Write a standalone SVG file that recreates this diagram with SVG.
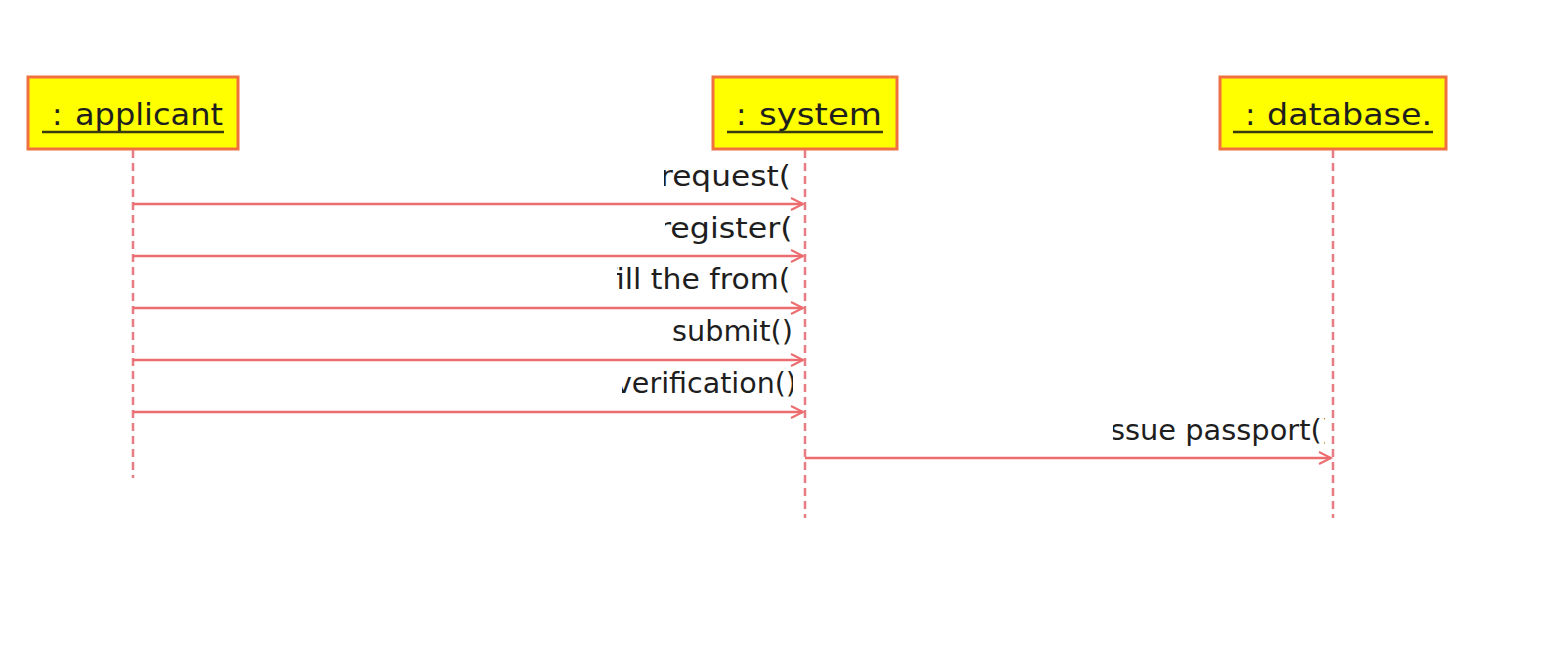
<svg xmlns="http://www.w3.org/2000/svg" width="1552" height="653" viewBox="0 0 1552 653">
<style>
.box{fill:#ffff00;stroke:#f07040;stroke-width:3}
.title{font-family:"DejaVu Sans",sans-serif;font-size:31px;fill:#1e1e1e}
.ul{stroke:#3a3a10;stroke-width:2.5}
.life{stroke:#e87c84;stroke-width:2.5;stroke-dasharray:8,5;fill:none}
.msg{stroke:#ec6c70;stroke-width:2.5;fill:none}
.lbl{font-family:"DejaVu Sans",sans-serif;font-size:28px;fill:#1e1e1e}
</style>
<defs>
<marker id="arr" markerWidth="16" markerHeight="16" refX="13" refY="7" orient="auto" markerUnits="userSpaceOnUse">
<path d="M1,1 L13,7 L1,13" fill="none" stroke="#ec6c70" stroke-width="2"/>
</marker>
<clipPath id="c1"><rect x="664" y="150" width="129" height="50"/></clipPath>
<clipPath id="c2"><rect x="665" y="205" width="130" height="45"/></clipPath>
<clipPath id="c3"><rect x="617" y="258" width="174" height="45"/></clipPath>
<clipPath id="c4"><rect x="620" y="310" width="178" height="45"/></clipPath>
<clipPath id="c5"><rect x="622" y="362" width="171" height="45"/></clipPath>
<clipPath id="c6"><rect x="1113" y="408" width="212" height="45"/></clipPath>
</defs>
<rect width="1552" height="653" fill="#ffffff"/>
<g id="applicant">
<rect class="box" x="28" y="77" width="210" height="72"/>
<text class="title" x="52" y="125">:</text>
<text class="title" x="75" y="125" textLength="148" lengthAdjust="spacingAndGlyphs">applicant</text>
<line class="ul" x1="42" y1="132" x2="224" y2="132"/>
</g>
<g id="system">
<rect class="box" x="713" y="77" width="184" height="72"/>
<text class="title" x="736" y="125">:</text>
<text class="title" x="759" y="125" textLength="123" lengthAdjust="spacingAndGlyphs">system</text>
<line class="ul" x1="727" y1="132" x2="883" y2="132"/>
</g>
<g id="database">
<rect class="box" x="1220" y="77" width="226" height="72"/>
<text class="title" x="1245" y="125">:</text>
<text class="title" x="1267" y="125" textLength="165" lengthAdjust="spacingAndGlyphs">database.</text>
<line class="ul" x1="1233" y1="132" x2="1433" y2="132"/>
</g>
<g id="lifelines">
<line class="life" x1="133" y1="150" x2="133" y2="478"/>
<line class="life" x1="805" y1="150" x2="805" y2="518"/>
<line class="life" x1="1333" y1="150" x2="1333" y2="518"/>
</g>
<g id="connectors">
<line class="msg" x1="133" y1="204" x2="803" y2="204" marker-end="url(#arr)"/>
<line class="msg" x1="133" y1="256" x2="803" y2="256" marker-end="url(#arr)"/>
<line class="msg" x1="133" y1="308" x2="803" y2="308" marker-end="url(#arr)"/>
<line class="msg" x1="133" y1="360" x2="803" y2="360" marker-end="url(#arr)"/>
<line class="msg" x1="133" y1="412" x2="803" y2="412" marker-end="url(#arr)"/>
<line class="msg" x1="805" y1="458" x2="1331" y2="458" marker-end="url(#arr)"/>
</g>
<g id="labels">
<text class="lbl" x="660" y="186" textLength="143" lengthAdjust="spacingAndGlyphs" clip-path="url(#c1)">request()</text>
<text class="lbl" x="658" y="238" textLength="147" lengthAdjust="spacingAndGlyphs" clip-path="url(#c2)">register()</text>
<text class="lbl" x="606" y="289" textLength="196" lengthAdjust="spacingAndGlyphs" clip-path="url(#c3)">fill the from()</text>
<text class="lbl" x="672" y="341" textLength="121" lengthAdjust="spacingAndGlyphs" clip-path="url(#c4)">submit()</text>
<text class="lbl" x="615" y="393" textLength="182" lengthAdjust="spacingAndGlyphs" clip-path="url(#c5)">verification()</text>
<text class="lbl" x="1102" y="440" textLength="231" lengthAdjust="spacingAndGlyphs" clip-path="url(#c6)">issue passport()</text>
</g>
</svg>
